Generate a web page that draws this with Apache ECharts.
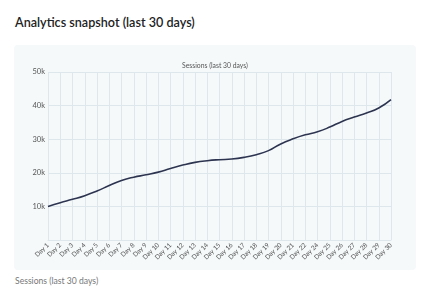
<!DOCTYPE html>
<html>
<head>
<meta charset="utf-8">
<script src="https://cdn.jsdelivr.net/npm/echarts@6/dist/echarts.min.js"></script>
<style>
  html, body { margin: 0; padding: 0; background: #fff; width: 444px; height: 300px; overflow: hidden; font-family: Lato, "Open Sans", sans-serif; }
  .title { position: absolute; left: 15px; top: 15px; font-size: 12.6px; font-weight: 600; color: #222; }
  .card { position: absolute; left: 14px; top: 45px; width: 402px; height: 225px; background: #f5f9fa; border-radius: 4px; }
  #chart { width: 402px; height: 225px; }
  .caption { position: absolute; left: 15px; top: 276px; font-size: 8.6px; color: #777; }
</style>
</head>
<body>
<div class="title">Analytics snapshot (last 30 days)</div>
<div class="card"><div id="chart"></div></div>
<div class="caption">Sessions (last 30 days)</div>
<script>
  // categories as shown on the axis (Day 23 is not in the reference)
  const days = ['Day 1', 'Day 2', 'Day 3', 'Day 4', 'Day 5', 'Day 6', 'Day 7', 'Day 8', 'Day 9', 'Day 10',
    'Day 11', 'Day 12', 'Day 13', 'Day 14', 'Day 15', 'Day 16', 'Day 17', 'Day 18', 'Day 19', 'Day 20',
    'Day 21', 'Day 22', 'Day 24', 'Day 25', 'Day 26', 'Day 27', 'Day 28', 'Day 29', 'Day 30'];
  const sessions = [10000, 11100, 12100, 13200, 14600, 16200, 17700, 18700, 19400, 20200,
    21300, 22300, 23100, 23600, 23900, 24100, 24600, 25400, 26600, 28600,
    30100, 31300, 32200, 33600, 35300, 36600, 37800, 39300, 41800];
  const yTicks = {min: 0, max: 50000, interval: 10000};

  const chart = echarts.init(document.getElementById('chart'));
  chart.setOption({
    animation: false,
    title: {
      text: 'Sessions (last 30 days)',
      left: 'center',
      top: 12,
      textStyle: {fontSize: 6.8, fontWeight: 'normal', color: '#555', fontFamily: 'Lato'}
    },
    grid: {left: 34, right: 25, top: 27, bottom: 30},
    xAxis: {
      type: 'category',
      data: days,
      boundaryGap: false,
      axisLine: {lineStyle: {color: '#dde7ec'}},
      axisTick: {show: false},
      axisLabel: {interval: 0, rotate: 45, fontSize: 6.5, color: '#555', margin: 4, fontFamily: 'Lato'},
      splitLine: {show: true, lineStyle: {color: '#dde7ec', width: 1}}
    },
    yAxis: {
      type: 'value',
      min: yTicks.min,
      max: yTicks.max,
      interval: yTicks.interval,
      axisLine: {show: false},
      axisTick: {show: false},
      axisLabel: {
        fontSize: 7.5, color: '#555', margin: 3, fontFamily: 'Lato',
        formatter: v => v === 0 ? '' : (v / 1000) + 'k'
      },
      splitLine: {lineStyle: {color: '#dde7ec', width: 1}}
    },
    series: [{
      name: 'Sessions',
      type: 'line',
      data: sessions,
      smooth: true,
      showSymbol: false,
      lineStyle: {color: '#2d3450', width: 1.6}
    }]
  });
</script>
</body>
</html>
